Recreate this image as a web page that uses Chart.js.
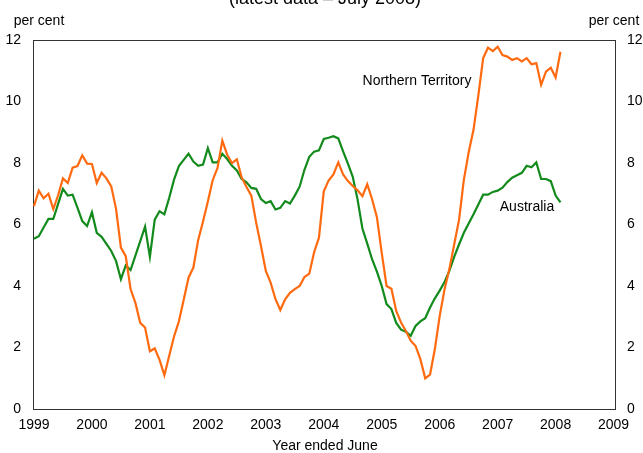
<!DOCTYPE html>
<html>
<head>
<meta charset="utf-8">
<script src="https://cdn.jsdelivr.net/npm/chart.js@4.4.1/dist/chart.umd.min.js"></script>
<style>
  html, body { margin: 0; padding: 0; background: #ffffff; }
  #wrap { width: 643px; height: 453px; position: relative; }
</style>
</head>
<body>
<div id="wrap"><canvas id="c" width="643" height="453"></canvas></div>
<script>
// ---- Data (monthly, June 1999 .. July 2008), per cent ----
const yearLabels = ['1999','2000','2001','2002','2003','2004','2005','2006','2007','2008','2009'];

const northernTerritory = [
  6.6, 7.1, 6.85, 7.0, 6.5, 6.95, 7.5, 7.35, 7.85, 7.9,
  8.25, 7.98, 7.97, 7.35, 7.68, 7.5, 7.24, 6.5, 5.25, 4.97,
  3.9, 3.45, 2.8, 2.65, 1.88, 1.97, 1.6, 1.1, 1.73, 2.36,
  2.85, 3.55, 4.27, 4.6, 5.5, 6.1, 6.75, 7.44, 7.84, 8.73,
  8.27, 8.0, 8.12, 7.53, 7.22, 6.94, 6.06, 5.3, 4.49, 4.11,
  3.57, 3.22, 3.57, 3.78, 3.9, 4.0, 4.29, 4.4, 5.1, 5.57,
  7.08, 7.43, 7.63, 8.02, 7.63, 7.41, 7.25, 7.11, 6.92, 7.31,
  6.82, 6.24, 5.08, 4.0, 3.91, 3.19, 2.81, 2.54, 2.22, 2.05,
  1.62, 1.0, 1.12, 1.95, 3.03, 3.89, 4.55, 5.35, 6.15, 7.45,
  8.35, 9.08, 10.2, 11.41, 11.75, 11.64, 11.78, 11.51, 11.46, 11.35,
  11.41, 11.3, 11.41, 11.21, 11.25, 10.54, 10.97, 11.1, 10.78, 11.62
];

const australia = [
  5.54, 5.62, 5.9, 6.18, 6.18, 6.67, 7.16, 6.94, 6.97, 6.55,
  6.11, 5.95, 6.4, 5.73, 5.6, 5.37, 5.14, 4.81, 4.22, 4.67,
  4.52, 4.99, 5.46, 5.93, 4.95, 6.16, 6.43, 6.33, 6.87, 7.46,
  7.9, 8.1, 8.3, 8.05, 7.91, 7.95, 8.48, 8.02, 8.02, 8.3,
  8.13, 7.91, 7.76, 7.48, 7.37, 7.19, 7.16, 6.83, 6.7, 6.76,
  6.49, 6.54, 6.76, 6.68, 6.94, 7.23, 7.78, 8.2, 8.37, 8.41,
  8.78, 8.82, 8.87, 8.8, 8.38, 7.98, 7.55, 6.81, 5.87, 5.38,
  4.87, 4.47, 4.0, 3.41, 3.25, 2.8, 2.58, 2.51, 2.38, 2.7,
  2.85, 2.95, 3.3, 3.6, 3.85, 4.13, 4.49, 4.95, 5.35, 5.73,
  6.03, 6.33, 6.65, 6.97, 6.97, 7.06, 7.1, 7.2, 7.38, 7.52,
  7.6, 7.68, 7.91, 7.86, 8.02, 7.48, 7.48, 7.41, 6.94, 6.72
];

const yTicks = [0, 2, 4, 6, 8, 10, 12];

// month index (0 = June 1999) -> point
const toPoints = arr => arr.map((v, i) => ({ x: i, y: v }));

const FONT = "'Liberation Sans', Arial, Helvetica, sans-serif";

const annotations = {
  id: 'annotations',
  beforeDatasetsDraw(chart) {
    const { ctx, chartArea: a } = chart;
    ctx.save();
    ctx.strokeStyle = '#333333';
    ctx.lineWidth = 1;
    ctx.strokeRect(Math.round(a.left) + 0.5, Math.round(a.top) + 0.5,
                   Math.round(a.right - a.left) - 1, Math.round(a.bottom - a.top));
    ctx.restore();
  },
  afterDraw(chart) {
    const { ctx } = chart;
    ctx.save();
    ctx.fillStyle = '#000000';
    // cut-off title
    ctx.font = '18px ' + FONT;
    ctx.textAlign = 'center';
    ctx.textBaseline = 'alphabetic';
    ctx.fillText('(latest data \u2013 July 2008)', 325, 4);

    ctx.font = '14px ' + FONT;
    ctx.textBaseline = 'middle';
    ctx.textAlign = 'center';
    ctx.fillText('per cent', 39, 21);
    ctx.fillText('per cent', 614, 21);
    ctx.fillText('Year ended June', 325, 446);

    ctx.fillText('Northern Territory', 417, 81);
    ctx.fillText('Australia', 527, 207);
    ctx.restore();
  }
};

new Chart(document.getElementById('c'), {
  type: 'line',
  data: {
    datasets: [
      {
        label: 'Northern Territory',
        data: toPoints(northernTerritory),
        borderColor: '#ff6a10',
        borderWidth: 2.2,
        pointRadius: 0,
        tension: 0,
        fill: false
      },
      {
        label: 'Australia',
        data: toPoints(australia),
        borderColor: '#138a1c',
        borderWidth: 2.2,
        pointRadius: 0,
        tension: 0,
        fill: false
      }
    ]
  },
  options: {
    responsive: false,
    animation: false,
    devicePixelRatio: 1,
    layout: { padding: { top: 40, left: 0, right: 0, bottom: 0 } },
    plugins: {
      legend: { display: false },
      tooltip: { enabled: false },
      title: { display: false }
    },
    scales: {
      x: {
        type: 'linear',
        min: -0.2,
        max: 120.5,
        grid: { display: false, drawTicks: false },
        border: { display: false },
        afterBuildTicks: s => { s.ticks = yearLabels.map((_, k) => ({ value: k * 12 })); },
        afterFit: s => { s.height = 44; },
        ticks: {
          autoSkip: false,
          maxRotation: 0,
          padding: 8,
          color: '#000000',
          font: { family: FONT, size: 14 },
          callback: v => yearLabels[Math.round(v / 12)]
        }
      },
      y: {
        position: 'left',
        min: 0,
        max: 12,
        grid: { display: false, drawTicks: false },
        border: { display: false },
        afterBuildTicks: s => { s.ticks = yTicks.map(v => ({ value: v })); },
        afterFit: s => { s.width = 33; },
        ticks: {
          padding: 12,
          color: '#000000',
          font: { family: FONT, size: 14 }
        }
      },
      y2: {
        position: 'right',
        min: 0,
        max: 12,
        grid: { display: false, drawTicks: false },
        border: { display: false },
        afterBuildTicks: s => { s.ticks = yTicks.map(v => ({ value: v })); },
        afterFit: s => { s.width = 27; },
        ticks: {
          padding: 11,
          color: '#000000',
          font: { family: FONT, size: 14 }
        }
      }
    }
  },
  plugins: [annotations]
});
</script>
</body>
</html>
